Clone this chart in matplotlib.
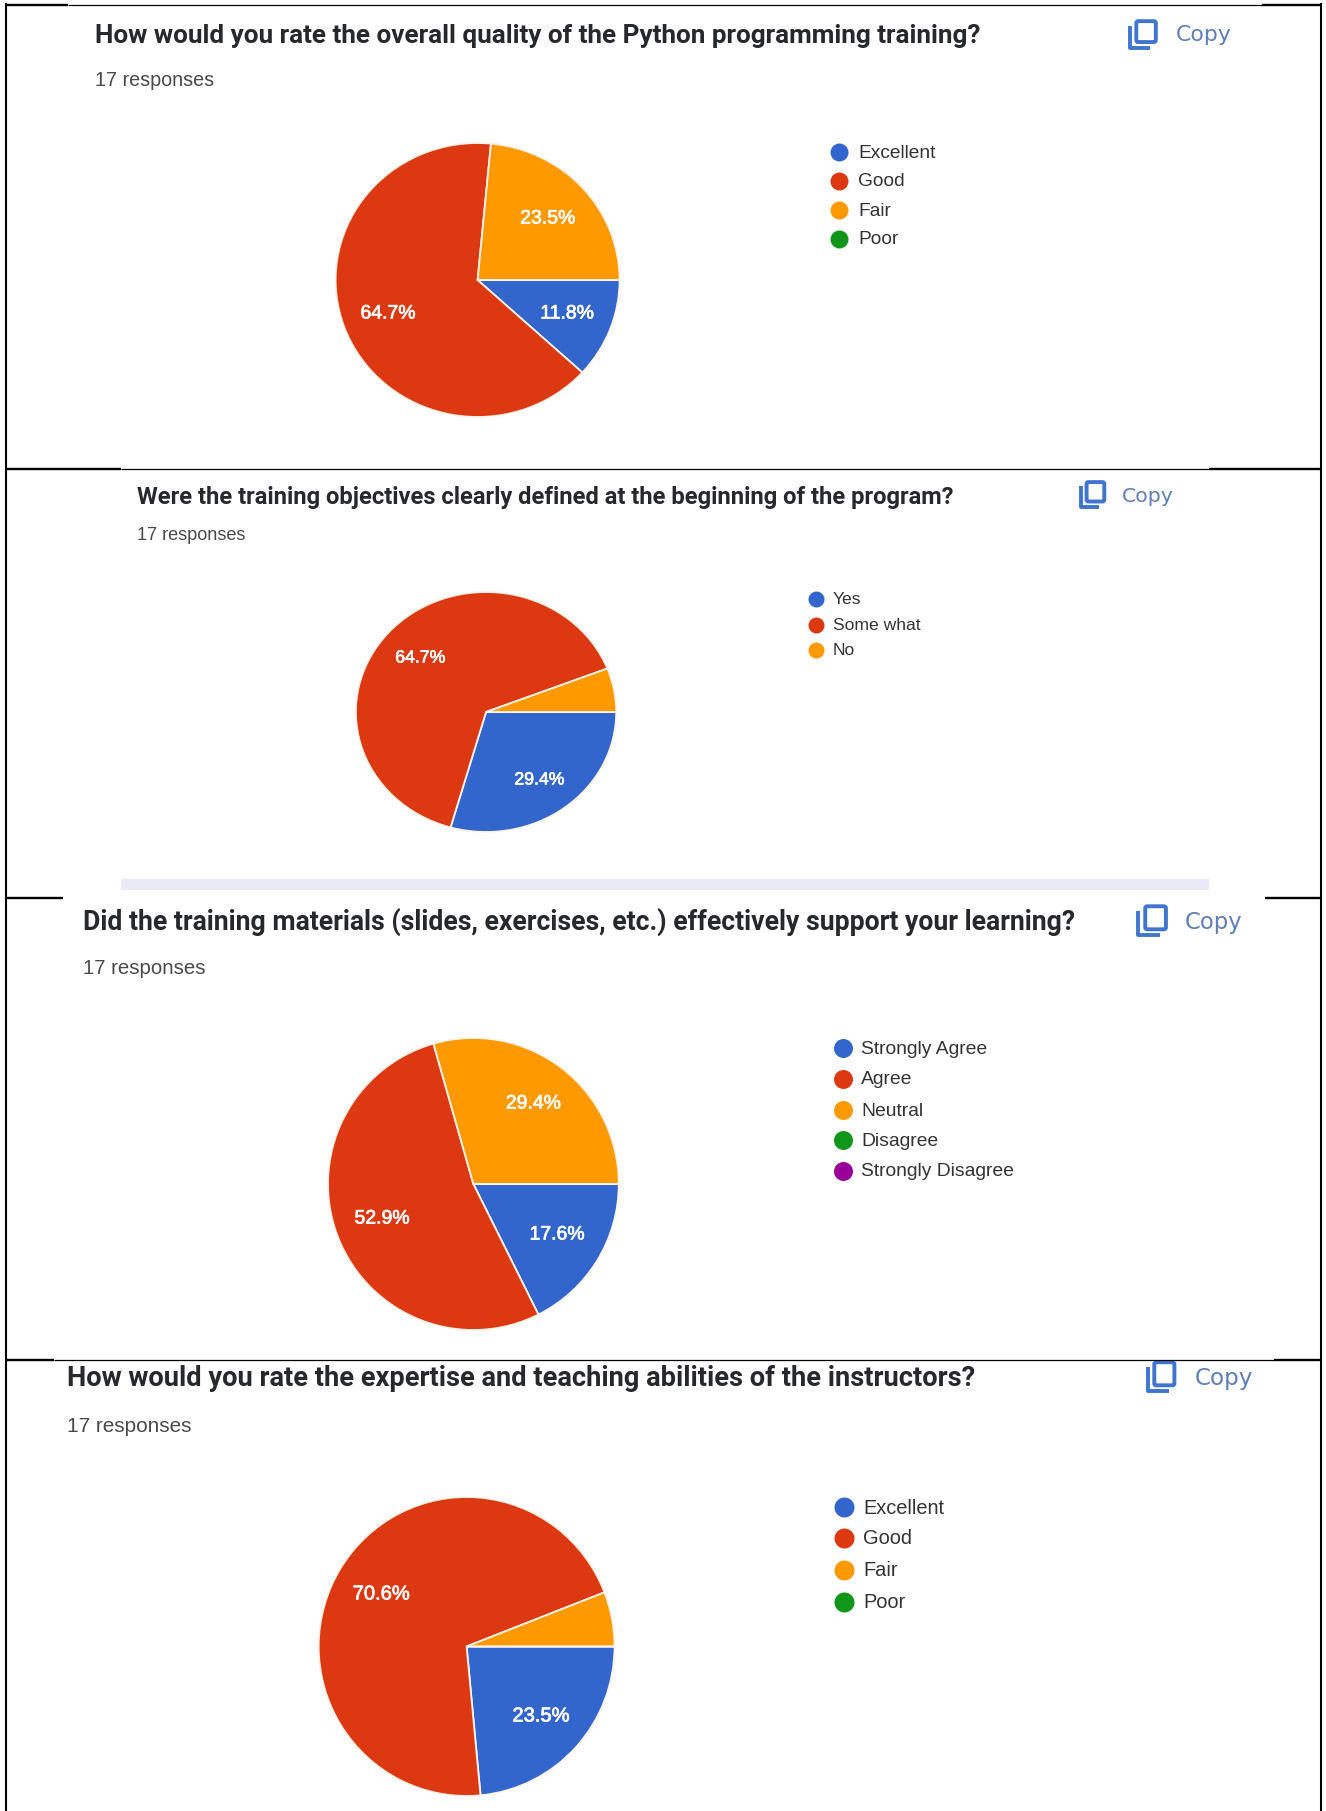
import matplotlib
matplotlib.use("Agg")
import matplotlib.pyplot as plt
import matplotlib.patheffects as pe
from matplotlib.patches import FancyBboxPatch, Rectangle

W, H = 1326, 1811
BLUE, RED, ORANGE, GREEN, PURPLE = "#3366CC", "#DC3912", "#FF9900", "#109618", "#990099"

# ---- data ----
titles = [
    "How would you rate the overall quality of the Python programming training?",
    "Were the training objectives clearly defined at the beginning of the program?",
    "Did the training materials (slides, exercises, etc.) effectively support your learning?",
    "How would you rate the expertise and teaching abilities of the instructors?",
]
subtitle = "17 responses"
cats_1 = ["Excellent", "Good", "Fair", "Poor"]
vals_1 = [11.8, 64.7, 23.5, 0]
cats_2 = ["Yes", "Some what", "No"]
vals_2 = [29.4, 64.7, 5.9]
cats_3 = ["Strongly Agree", "Agree", "Neutral", "Disagree", "Strongly Disagree"]
vals_3 = [17.6, 52.9, 29.4, 0, 0]
cats_4 = ["Excellent", "Good", "Fair", "Poor"]
vals_4 = [23.5, 70.6, 5.9, 0]
colors = [BLUE, RED, ORANGE, GREEN, PURPLE]

X = lambda d: d / 1.183   # zoom-display x to pixels

# ---- layout (pixels) ----
panels = [
    dict(cats=cats_1, vals=vals_1, t=titles[0], tx=112, txr=1157, ty=34, sx=112, sxr=252, sy=78,
         cx=566, lx=397, rx=733, top=143, bot=417,
         icon=(1335, 1368, 20, 49), copy=(1391, 1457, 33),
         dot=993, r=9, tx_leg=1015, leg_ref=1107, leg_ys=[151, 180, 209, 238],
         pct=55, lab=[(671, 314), (459, 314), (648, 219)]),
    dict(cats=cats_2, vals=vals_2, t=titles[1], tx=162, txr=1130, ty=495, sx=162, sxr=291, sy=533,
         cx=575, lx=421, rx=729, top=592, bot=832,
         icon=(1277, 1307, 481, 508), copy=(1327, 1388, 494),
         dot=965, r=8, tx_leg=985, leg_ref=1088, leg_ys=[598, 624, 649],
         pct=50, lab=[(638, 780), (497, 658), None]),
    dict(cats=cats_3, vals=vals_3, t=titles[2], tx=98, txr=1273, ty=919, sx=98, sxr=242, sy=967,
         cx=560, lx=388, rx=732, top=1038, bot=1330,
         icon=(1345, 1380, 905, 937), copy=(1402, 1470, 920),
         dot=997, r=9.5, tx_leg=1019, leg_ref=1200, leg_ys=[1047, 1078, 1109, 1139, 1170],
         pct=55, lab=[(659, 1235), (452, 1219), (631, 1104)]),
    dict(cats=cats_4, vals=vals_4, t=titles[3], tx=79, txr=1153, ty=1375, sx=79, sxr=226, sy=1425,
         cx=553, lx=377, rx=727, top=1497, bot=1796,
         icon=(1356, 1390, 1361, 1393), copy=(1413, 1482, 1376),
         dot=999, r=10, tx_leg=1021, leg_ref=1117, leg_ys=[1506, 1537, 1569, 1601],
         pct=57, lab=[(640, 1716), (451, 1594), None]),
]

fig = plt.figure(figsize=(W / 100, H / 100), dpi=100, facecolor="white")
ov = fig.add_axes([0, 0, 1, 1], zorder=5)
ov.set_xlim(0, W)
ov.set_ylim(H, 0)
ov.axis("off")
ov.patch.set_alpha(0)
renderer = fig.canvas.get_renderer()


def fit_size(s, width, **kw):
    t = ov.text(0, 0, s, fontsize=20, **kw)
    w = t.get_window_extent(renderer).width
    t.remove()
    return 20 * width / w


def put(x, y, s, size, **kw):
    ov.text(x, y, s, fontsize=size, va="center_baseline", **kw)


FONT = "Liberation Sans"
for p in panels:
    left, right = X(p["lx"]), X(p["rx"])
    ax = fig.add_axes([left / W, 1 - p["bot"] / H, (right - left) / W, (p["bot"] - p["top"]) / H])
    ax.pie(p["vals"], colors=colors[: len(p["vals"])], startangle=0, counterclock=False, radius=1,
           wedgeprops=dict(edgecolor="#FFF4EA", linewidth=1.3))
    ax.set_aspect("auto")
    ax.set_xlim(-1, 1)
    ax.set_ylim(-1, 1)

    # heading
    x0, x1 = X(p["tx"]), X(p["txr"])
    put(x0, p["ty"], p["t"], fit_size(p["t"], x1 - x0, family="Roboto", weight="bold"),
        family="Roboto", weight="bold", color="#26282c")
    x0, x1 = X(p["sx"]), X(p["sxr"])
    put(x0, p["sy"], subtitle, fit_size(subtitle, x1 - x0, family=FONT), family=FONT, color="#4a4a4a")

    # copy button
    a, b, c, d = X(p["icon"][0]), X(p["icon"][1]), p["icon"][2], p["icon"][3]
    iw, ih = b - a, d - c
    ov.add_patch(FancyBboxPatch((a + 0.28 * iw, c + 0.04 * ih), 0.7 * iw, 0.72 * ih,
                                boxstyle="round,pad=0,rounding_size=2", fill=False,
                                edgecolor="#3F74CF", linewidth=2.8))
    ov.plot([a + 0.05 * iw, a + 0.05 * iw, a + 0.78 * iw],
            [c + 0.2 * ih, c + 0.95 * ih, c + 0.95 * ih], color="#3F74CF", lw=2.8,
            solid_joinstyle="round", solid_capstyle="butt")
    x0, x1 = X(p["copy"][0]), X(p["copy"][1])
    put(x0, p["copy"][2], "Copy", fit_size("Copy", x1 - x0, family="DejaVu Sans"),
        family="DejaVu Sans", color="#5F7DB8")

    # legend
    longest = max(p["cats"], key=len)
    size = fit_size(longest, X(p["leg_ref"]) - X(p["tx_leg"]), family=FONT)
    for name, col, y in zip(p["cats"], colors, p["leg_ys"]):
        ov.scatter([X(p["dot"])], [y + 1], s=(p["r"] * 2 * 0.72) ** 2, color=col, linewidths=0)
        put(X(p["tx_leg"]), y, name, size, family=FONT, color="#333333")

    # percentages
    pct_size = fit_size("64.7%", p["pct"], family=FONT)
    for v, pos in zip(p["vals"], p["lab"]):
        if pos is not None and v > 0:
            ov.text(X(pos[0]), pos[1], f"{v:.1f}%", fontsize=pct_size, family=FONT,
                    color="white", ha="center", va="center",
                    path_effects=[pe.withStroke(linewidth=0.5, foreground="white")])

# frame of the stitched screenshots
LW = 1.5
ov.plot([X(7)] * 2, [4, H], color="black", lw=LW)
ov.plot([X(1563)] * 2, [4, H], color="black", lw=LW)
for y, segs, thin in [
    (4.5, [(7, 80), (1493, 1563)], (80, 1493)),
    (468.5, [(7, 143), (1430, 1563)], (143, 1430)),
    (897.5, [(7, 74), (1497, 1563)], None),
    (1359.5, [(7, 64), (1507, 1563)], (64, 1507)),
]:
    for a, b in segs:
        ov.plot([X(a), X(b)], [y, y], color="black", lw=1.7, solid_capstyle="butt")
    if thin:
        ov.plot([X(thin[0]), X(thin[1])], [y, y], color="black", lw=0.9, solid_capstyle="butt")

# lavender band under the second screenshot
ov.add_patch(Rectangle((X(143), 879), X(1430) - X(143), 11, facecolor="#E9E9F8", edgecolor="none"))

fig.savefig("out.png", dpi=100, facecolor="white")
